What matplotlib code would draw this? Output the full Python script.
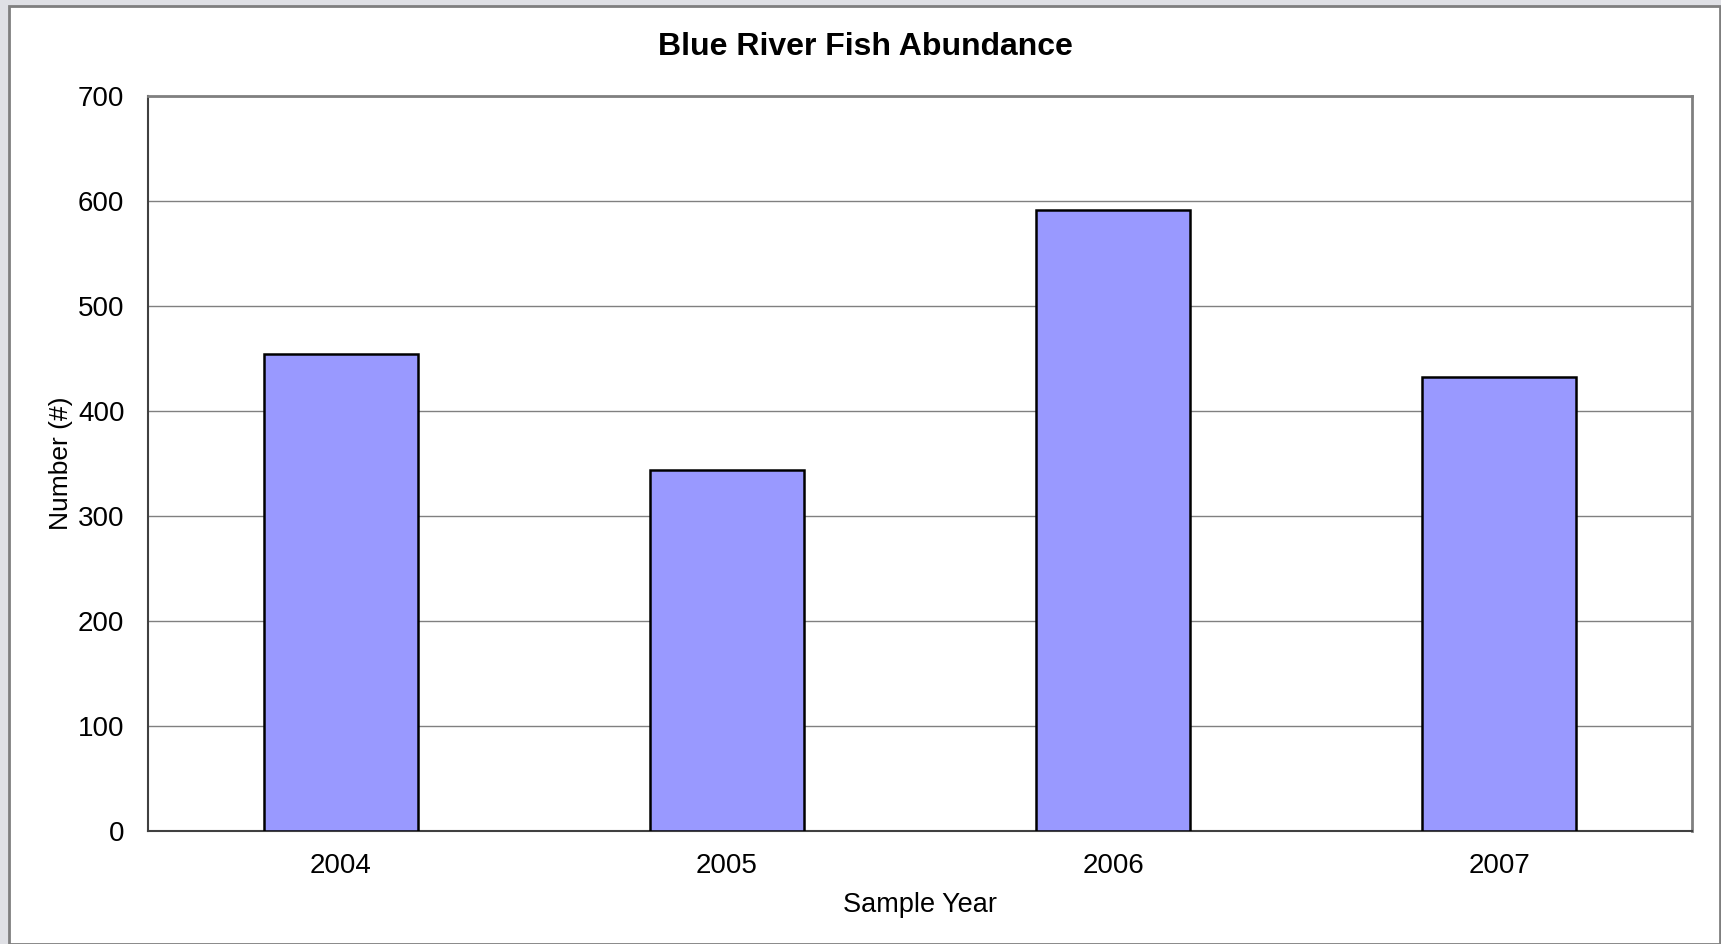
import matplotlib
matplotlib.use("Agg")
import matplotlib.pyplot as plt
from matplotlib.patches import Rectangle

# data
years = ["2004", "2005", "2006", "2007"]
counts = [454, 344, 591, 432]
yticks = [0, 100, 200, 300, 400, 500, 600, 700]

plt.rcParams["font.family"] = ["Liberation Sans", "DejaVu Sans"]

W, H = 1721, 944
fig = plt.figure(figsize=(W / 100, H / 100), dpi=100, facecolor="#dfe0e5")

# white chart panel with gray border
panel = Rectangle((9 / W, 0), (1720 - 9) / W, (H - 6) / H, transform=fig.transFigure,
                  facecolor="white", edgecolor="#7f7f7f", linewidth=2, zorder=-10)
fig.patches.append(panel)

left, right, top, bottom = 148, 1692, 96, 831
ax = fig.add_axes([left / W, 1 - bottom / H, (right - left) / W, (bottom - top) / H])
ax.set_zorder(1)
ax.set_facecolor("white")

x = range(len(years))
ax.bar(x, counts, width=0.40, color="#9999ff", edgecolor="black", linewidth=1.8, zorder=3)

ax.set_xlim(-0.5, len(years) - 0.5)
ax.set_ylim(0, 700)
ax.set_yticks(yticks)
ax.set_xticks(list(x))
ax.set_xticklabels(years)
ax.grid(axis="y", color="#808080", linewidth=1.0, zorder=0)
ax.set_axisbelow(True)
ax.tick_params(axis="both", length=0, labelsize=20, colors="black")
ax.tick_params(axis="y", pad=17)
ax.tick_params(axis="x", pad=16)

for side in ["top", "right"]:
    ax.spines[side].set_color("#808080")
    ax.spines[side].set_linewidth(2)
for side in ["left", "bottom"]:
    ax.spines[side].set_color("#404040")
    ax.spines[side].set_linewidth(1.5)

fig.text(865 / W, 1 - 47 / H, "Blue River Fish Abundance",
         ha="center", va="center", fontsize=23, fontweight="bold")
fig.text(61 / W, 1 - 463 / H, "Number (#)", rotation=90, ha="center", va="center", fontsize=19)
fig.text(0.5 * (left + right) / W, 1 - 905 / H, "Sample Year", ha="center", va="center", fontsize=19.5)

fig.savefig("out.png", dpi=100, facecolor=fig.get_facecolor())
